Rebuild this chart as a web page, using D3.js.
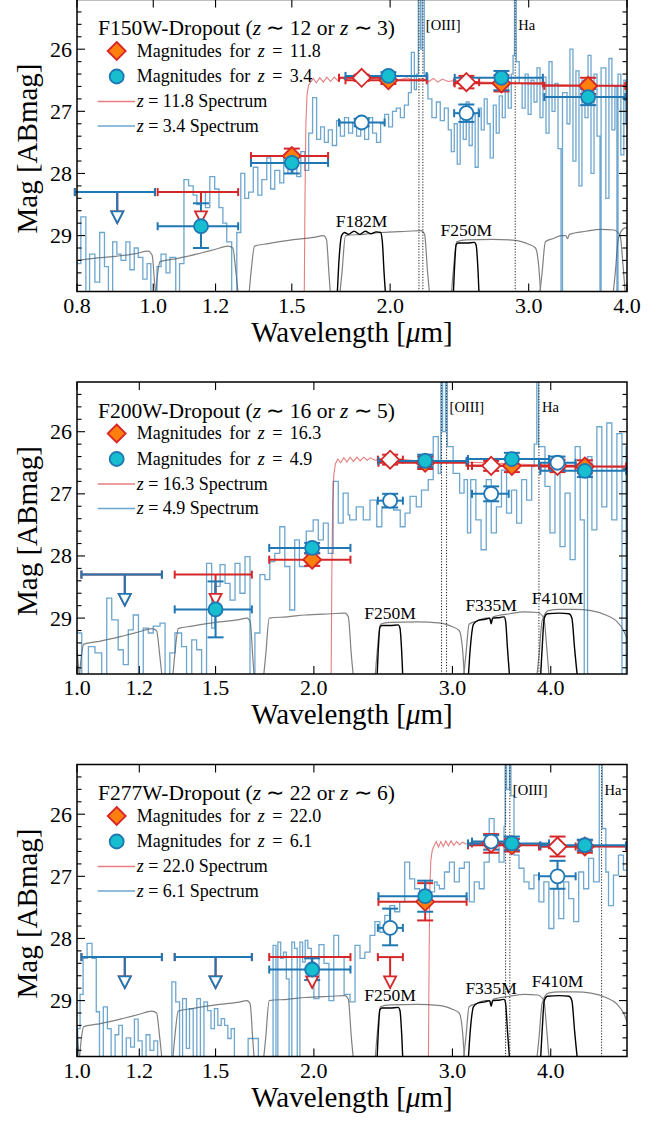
<!DOCTYPE html>
<html>
<head>
<meta charset="utf-8">
<script src="https://cdn.jsdelivr.net/npm/d3@7"></script>
<style>
  body { margin: 0; background: #fff; }
  svg text { font-family: "Liberation Serif", "Times New Roman", serif; fill: #000; }
</style>
</head>
<body>
<svg id="fig" width="668" height="1121" font-family="Liberation Serif, serif"></svg>
<script>
// ---- axes ----
var magDomain = [25.2, 29.9];
var yTicks = [26, 27, 28, 29];
var xTicks1 = [0.8, 1.0, 1.2, 1.5, 2.0, 3.0, 4.0];
var xTicks23 = [1.0, 1.2, 1.5, 2.0, 3.0, 4.0];

// filter edges [lo, hi, pivot] in micron
var bandEdges = {
  F090W: [0.795, 1.005, 0.90], F115W: [1.013, 1.282, 1.15], F150W: [1.331, 1.668, 1.50],
  F200W: [1.755, 2.226, 1.99], F277W: [2.416, 3.127, 2.77], F356W: [3.140, 3.980, 3.57],
  F444W: [3.880, 4.986, 4.42], F182M: [1.722, 1.968, 1.84], F250M: [2.412, 2.595, 2.50],
  F335M: [3.177, 3.537, 3.36], F410M: [3.865, 4.302, 4.08]
};
var mediumBands = ['F182M', 'F250M', 'F335M', 'F410M'];

// filter transmission curves, drawn in magnitude units at the bottom of each panel
var broadCurves = [
  [[0.76,29.44],[0.80,29.40],[0.85,29.36],[0.90,29.33],[0.95,29.29],[0.985,29.25],[0.997,29.32],[1.003,29.7],[1.008,30.0],[1.014,30.3]],
  [[0.998,30.3],[1.006,30.0],[1.012,29.65],[1.02,29.42],[1.06,29.38],[1.10,29.34],[1.15,29.28],[1.20,29.22],[1.245,29.17],[1.262,29.2],[1.274,29.6],[1.284,30.0],[1.296,30.3]],
  [[1.31,30.3],[1.322,30.0],[1.331,29.6],[1.345,29.17],[1.40,29.13],[1.50,29.07],[1.60,29.03],[1.645,29.0],[1.66,29.06],[1.672,29.6],[1.681,30.0],[1.695,30.3]],
  [[1.71,30.3],[1.724,30.0],[1.737,29.6],[1.755,29.0],[1.85,28.98],[1.95,28.95],[2.10,28.93],[2.19,28.92],[2.212,28.98],[2.232,29.6],[2.248,30.0],[2.27,30.3]],
  [[2.37,30.3],[2.39,30.0],[2.405,29.6],[2.43,29.1],[2.50,29.07],[2.70,29.06],[2.90,29.08],[3.00,29.14],[3.06,29.2],[3.09,29.5],[3.11,30.0],[3.13,30.3]],
  [[3.07,30.3],[3.095,30.0],[3.12,29.6],[3.15,29.1],[3.22,29.05],[3.30,29.0],[3.345,29.0],[3.36,29.05],[3.38,28.98],[3.55,28.93],[3.70,28.9],[3.85,28.91],[3.92,29.0],[3.955,29.5],[3.985,30.0],[4.02,30.3]],
  [[3.80,30.3],[3.835,30.0],[3.865,29.6],[3.90,29.05],[3.97,28.88],[4.10,28.86],[4.30,28.86],[4.50,28.88],[4.70,28.95],[4.85,29.05],[4.95,29.2],[5.05,29.5]]
];
var mediumCurves = {
  F182M: [[1.70,30.3],[1.712,30.0],[1.722,29.4],[1.735,29.0],[1.75,28.95],[1.77,28.98],[1.80,28.93],[1.83,28.98],[1.86,28.93],[1.89,28.97],[1.92,28.94],[1.945,28.95],[1.955,29.1],[1.965,29.6],[1.975,30.0],[1.99,30.3]],
  F250M: [[2.39,30.3],[2.405,30.0],[2.415,29.5],[2.426,29.15],[2.44,29.12],[2.50,29.12],[2.56,29.11],[2.573,29.16],[2.585,29.5],[2.596,30.0],[2.61,30.3]],
  F335M: [[3.12,30.3],[3.14,30.0],[3.16,29.5],[3.19,29.1],[3.23,29.04],[3.30,29.02],[3.345,29.0],[3.36,29.09],[3.375,29.0],[3.45,28.99],[3.49,28.98],[3.505,29.05],[3.525,29.5],[3.55,30.0],[3.58,30.3]],
  F410M: [[3.86,30.3],[3.88,30.0],[3.90,29.5],[3.925,29.0],[3.96,28.93],[4.10,28.92],[4.22,28.93],[4.255,29.0],[4.29,29.5],[4.33,30.0],[4.37,30.3]]
};

// ---- panel 1: F150W dropout ----
var p1Title = ['F150W-Dropout (', 'z', ' \u223C 12 or ', 'z', ' \u223C 3)'];
var p1Redshifts = ['11.8', '3.4'];
var p1Medium = ['F182M', 'F250M'];
var p1BandLabels = [['F182M', 1.84, 28.86], ['F250M', 2.50, 29.01]];
var p1EmLines = [['[OIII]', [2.176, 2.201]], ['Ha', [2.884]]];
var p1RedDet = [['F150W',27.72,0.12,0.11],['F182M',26.46,0.05,0.05],['F200W',26.50,0.06,0.06],['F250M',26.53,0.10,0.10],['F277W',26.55,0.13,0.13],['F356W',26.59,0.13,0.13]];
var p1RedLim = [['F090W',28.3],['F115W',28.3]];
var p1BlueDet = [['F115W',28.85,0.37,0.35],['F150W',27.83,0.10,0.17],['F182M',27.18,0.06,0.06],['F200W',26.43,0.06,0.06],['F250M',27.03,0.14,0.14],['F277W',26.46,0.11,0.20],['F356W',26.77,0.13,0.13]];
var p1BlueLim = [['F090W',28.3]];
var p1RedSpec = [[0.78,30.6],[1.552,30.6],[1.556,29.8],[1.559,28.4],[1.563,27.2],[1.568,26.75],[1.575,26.58],[1.585,26.53],[1.597,26.47],[1.612,26.54],[1.628,26.46],[1.645,26.53],[1.662,26.45],[1.68,26.52],[1.698,26.45],[1.717,26.51],[1.737,26.46],[1.758,26.5],[1.78,26.46],[1.81,26.5],[1.84,26.47],[1.88,26.49],[1.92,26.46],[1.96,26.49],[2.0,26.47],[2.05,26.5],[2.1,26.46],[2.15,26.5],[2.2,26.47],[2.24,26.52],[2.27,26.47],[2.3,26.53],[2.33,26.48],[2.37,26.52],[2.42,26.5],[2.5,26.52],[2.6,26.53],[2.8,26.54],[3.0,26.56],[3.2,26.57],[3.5,26.58],[3.8,26.59],[4.1,26.6]];
var p1BlueSpec = [[0.780,29.4],[0.800,29.45],[0.809,28.70],[0.821,30.2],[0.830,29.30],[0.843,29.75],[0.855,28.95],[0.867,29.50],[0.877,30.2],[0.888,29.10],[0.899,29.30],[0.910,29.40],[0.923,29.10],[0.934,29.55],[0.946,29.20],[0.957,29.35],[0.970,29.70],[0.982,29.45],[0.993,30.2],[1.011,29.50],[1.023,29.30],[1.038,29.60],[1.050,29.35],[1.068,30.2],[1.080,29.45],[1.094,28.10],[1.109,28.20],[1.124,28.35],[1.136,28.50],[1.150,28.30],[1.165,28.55],[1.180,28.05],[1.197,28.25],[1.212,28.55],[1.226,28.80],[1.240,29.10],[1.258,30.2],[1.277,28.95],[1.292,28.00],[1.307,28.40],[1.322,28.30],[1.340,27.90],[1.358,28.35],[1.374,28.10],[1.394,27.75],[1.410,28.25],[1.427,27.95],[1.448,28.15],[1.465,27.70],[1.483,28.00],[1.505,27.85],[1.522,28.05],[1.540,27.65],[1.558,27.95],[1.576,27.35],[1.594,26.78],[1.613,27.45],[1.632,27.25],[1.650,27.50],[1.669,27.30],[1.689,27.55],[1.710,27.15],[1.729,27.40],[1.750,27.10],[1.771,27.35],[1.792,27.20],[1.813,27.40],[1.835,27.25],[1.856,27.45],[1.878,27.10],[1.900,27.35],[1.922,27.50],[1.945,27.20],[1.968,27.05],[1.991,27.25],[2.014,27.00],[2.037,26.95],[2.061,27.10],[2.085,26.90],[2.110,26.70],[2.128,26.05],[2.147,26.65],[2.160,26.40],[2.172,24.0],[2.185,26.0],[2.196,24.0],[2.210,26.4],[2.234,26.80],[2.260,27.10],[2.290,26.85],[2.316,27.15],[2.344,26.95],[2.371,27.30],[2.392,27.65],[2.413,27.20],[2.434,27.85],[2.455,27.10],[2.477,27.45],[2.499,26.85],[2.520,27.55],[2.543,27.05],[2.565,27.90],[2.588,26.95],[2.611,27.30],[2.634,26.80],[2.657,27.20],[2.680,27.75],[2.705,26.90],[2.728,27.35],[2.752,26.75],[2.777,27.10],[2.801,26.60],[2.826,26.95],[2.851,26.40],[2.866,26.10],[2.878,24.0],[2.893,26.2],[2.918,26.55],[2.943,26.95],[2.969,26.40],[2.995,27.05],[3.021,26.50],[3.047,26.85],[3.074,26.30],[3.101,27.10],[3.128,26.45],[3.156,27.35],[3.184,26.20],[3.212,27.00],[3.240,26.55],[3.269,27.60],[3.298,30.2],[3.312,26.70],[3.356,27.20],[3.385,26.0],[3.415,27.80],[3.445,26.35],[3.476,28.20],[3.506,26.50],[3.537,27.10],[3.569,26.10],[3.600,28.00],[3.632,26.40],[3.664,27.40],[3.696,30.2],[3.708,26.30],[3.760,28.40],[3.794,26.15],[3.827,27.30],[3.861,26.60],[3.884,30.2],[3.896,26.40],[3.929,27.70],[3.963,26.50],[3.986,27.20],[4.02,26.8]];

// ---- panel 2: F200W dropout ----
var p2Title = ['F200W-Dropout (', 'z', ' \u223C 16 or ', 'z', ' \u223C 5)'];
var p2Redshifts = ['16.3', '4.9'];
var p23Medium = ['F250M', 'F335M', 'F410M'];
var p23BandLabels = [['F250M', 2.50, 29.01], ['F335M', 3.36, 28.89], ['F410M', 4.08, 28.78]];
var p2EmLines = [['[OIII]', [2.906, 2.949]], ['Ha', [3.864]]];
var p2RedDet = [['F200W',28.06,0.10,0.10],['F250M',26.45,0.08,0.08],['F277W',26.50,0.10,0.10],['F335M',26.55,0.08,0.08],['F356W',26.55,0.10,0.10],['F410M',26.55,0.10,0.10],['F444W',26.56,0.10,0.10]];
var p2RedLim = [['F115W',28.3],['F150W',28.3]];
var p2BlueDet = [['F150W',28.86,0.45,0.45],['F200W',27.87,0.08,0.08],['F250M',27.11,0.11,0.11],['F277W',26.47,0.10,0.10],['F335M',27.00,0.12,0.12],['F356W',26.44,0.10,0.10],['F410M',26.50,0.10,0.10],['F444W',26.63,0.10,0.10]];
var p2BlueLim = [['F115W',28.3]];
var p2RedSpec = [[0.98,30.6],[2.100,30.6],[2.104,29.8],[2.108,28.3],[2.113,27.2],[2.12,26.7],[2.13,26.52],[2.145,26.44],[2.163,26.5],[2.183,26.42],[2.203,26.49],[2.224,26.41],[2.246,26.48],[2.268,26.41],[2.29,26.47],[2.313,26.41],[2.337,26.46],[2.36,26.42],[2.39,26.46],[2.43,26.44],[2.5,26.46],[2.6,26.45],[2.7,26.47],[2.8,26.46],[2.9,26.48],[3.0,26.47],[3.1,26.49],[3.3,26.5],[3.6,26.52],[4.0,26.54],[4.5,26.56],[5.1,26.58]];
var p2BlueSpec = [[1.000,29.24],[1.014,30.2],[1.034,29.46],[1.054,29.56],[1.075,30.2],[1.091,28.68],[1.107,29.03],[1.128,29.51],[1.145,29.75],[1.162,29.19],[1.179,28.95],[1.197,30.2],[1.214,29.16],[1.232,29.24],[1.250,29.13],[1.275,29.08],[1.294,30.2],[1.312,29.56],[1.332,29.24],[1.358,29.46],[1.378,30.2],[1.399,29.35],[1.419,29.51],[1.440,30.2],[1.461,28.12],[1.483,29.16],[1.497,28.49],[1.520,28.14],[1.542,28.44],[1.565,28.71],[1.588,28.12],[1.611,28.60],[1.635,28.01],[1.659,30.2],[1.683,29.24],[1.708,28.30],[1.733,28.38],[1.758,28.09],[1.784,27.96],[1.810,27.53],[1.837,28.17],[1.864,28.87],[1.891,27.74],[1.917,28.17],[1.956,27.60],[1.996,27.42],[2.026,27.74],[2.056,27.47],[2.086,27.96],[2.116,26.80],[2.148,27.47],[2.179,26.99],[2.211,27.34],[2.221,27.42],[2.264,27.21],[2.311,27.42],[2.357,27.10],[2.404,27.53],[2.440,27.21],[2.476,27.04],[2.525,27.26],[2.575,27.53],[2.612,27.31],[2.650,27.04],[2.699,27.21],[2.740,26.94],[2.795,26.77],[2.836,26.08],[2.878,26.67],[2.900,24.0],[2.915,26.0],[2.940,24.0],[2.955,26.24],[2.977,26.24],[3.006,26.67],[3.064,26.99],[3.104,26.77],[3.135,27.63],[3.165,26.77],[3.213,27.42],[3.262,27.90],[3.312,26.77],[3.361,27.63],[3.412,27.21],[3.463,26.62],[3.515,27.31],[3.566,26.94],[3.620,27.47],[3.673,26.77],[3.727,27.10],[3.783,26.56],[3.811,26.20],[3.840,24.0],[3.860,26.24],[3.933,26.88],[3.991,27.63],[4.050,26.67],[4.110,27.85],[4.171,26.99],[4.233,28.06],[4.296,26.24],[4.360,27.42],[4.412,30.2],[4.455,26.40],[4.512,27.58],[4.578,25.92],[4.645,27.21],[4.713,25.86],[4.783,27.42],[4.854,26.03],[4.927,30.2],[4.986,26.24],[5.05,26.5]];

// ---- panel 3: F277W dropout ----
var p3Title = ['F277W-Dropout (', 'z', ' \u223C 22 or ', 'z', ' \u223C 6)'];
var p3Redshifts = ['22.0', '6.1'];
var p3EmLines = [['[OIII]', [3.505, 3.549]], ['Ha', [4.642]]];
var p3RedDet = [['F277W',27.41,0.30,0.30],['F335M',26.47,0.15,0.15],['F356W',26.50,0.10,0.10],['F410M',26.52,0.16,0.16],['F444W',26.52,0.10,0.10]];
var p3RedLim = [['F115W',28.3],['F150W',28.3],['F200W',28.3],['F250M',28.3]];
var p3BlueDet = [['F200W',28.50,0.18,0.17],['F250M',27.83,0.31,0.28],['F277W',27.32,0.25,0.25],['F335M',26.44,0.10,0.13],['F356W',26.47,0.11,0.11],['F410M',27.00,0.25,0.20],['F444W',26.50,0.09,0.09]];
var p3BlueLim = [['F115W',28.3],['F150W',28.3]];
var p3RedSpec = [[0.98,30.6],[2.792,30.6],[2.797,29.8],[2.802,28.3],[2.808,27.2],[2.816,26.75],[2.828,26.58],[2.845,26.5],[2.862,26.44],[2.88,26.53],[2.9,26.44],[2.92,26.52],[2.942,26.43],[2.965,26.51],[2.988,26.43],[3.012,26.5],[3.037,26.44],[3.063,26.49],[3.09,26.45],[3.12,26.48],[3.16,26.46],[3.22,26.48],[3.3,26.47],[3.45,26.49],[3.7,26.5],[4.0,26.51],[4.4,26.52],[5.1,26.53]];
var p3BlueSpec = [[1.000,30.2],[1.002,29.45],[1.009,28.9],[1.018,28.32],[1.030,28.08],[1.045,28.32],[1.058,29.18],[1.068,30.2],[1.080,29.1],[1.093,29.45],[1.105,30.2],[1.118,29.55],[1.130,29.4],[1.142,30.2],[1.155,29.6],[1.170,29.75],[1.183,29.3],[1.196,29.65],[1.210,30.2],[1.224,29.55],[1.238,29.8],[1.252,29.65],[1.266,30.2],[1.320,28.7],[1.335,29.02],[1.350,30.2],[1.362,28.97],[1.377,29.77],[1.390,29.13],[1.405,30.2],[1.420,28.97],[1.435,30.2],[1.450,29.02],[1.465,29.16],[1.480,29.45],[1.495,29.13],[1.510,29.4],[1.525,29.29],[1.540,29.4],[1.555,29.61],[1.570,29.45],[1.585,30.2],[1.650,29.61],[1.700,30.2],[1.775,28.11],[1.790,30.2],[1.800,28.06],[1.815,28.32],[1.830,28.22],[1.845,28.65],[1.860,30.2],[1.875,28.06],[1.890,28.16],[1.905,30.2],[1.920,28.06],[1.935,28.38],[1.950,28.03],[1.965,28.16],[1.985,28.38],[2.000,28.97],[2.030,28.1],[2.060,28.4],[2.090,29.0],[2.120,27.95],[2.150,28.3],[2.185,28.9],[2.223,29.02],[2.256,28.11],[2.289,28.32],[2.322,28.22],[2.357,27.95],[2.391,27.73],[2.426,27.90],[2.461,27.63],[2.498,27.47],[2.534,27.57],[2.571,27.41],[2.609,26.77],[2.647,27.04],[2.686,27.20],[2.725,27.41],[2.765,27.36],[2.806,27.25],[2.847,27.09],[2.868,27.14],[2.888,27.20],[2.931,26.93],[2.974,26.77],[3.017,27.09],[3.061,26.87],[3.106,26.77],[3.152,27.41],[3.198,27.09],[3.245,27.20],[3.292,26.77],[3.341,26.07],[3.389,26.45],[3.439,26.77],[3.489,26.2],[3.500,23.5],[3.515,25.6],[3.545,23.5],[3.560,25.7],[3.592,26.66],[3.645,26.87],[3.699,27.09],[3.753,27.20],[3.808,26.98],[3.864,27.41],[3.920,27.09],[3.978,27.84],[4.036,27.20],[4.095,27.68],[4.155,27.09],[4.216,27.36],[4.278,27.73],[4.341,26.93],[4.404,27.20],[4.469,26.71],[4.534,27.09],[4.610,23.5],[4.650,26.23],[4.700,26.93],[4.737,27.47],[4.806,26.98],[4.877,26.66],[4.948,26.90],[5.05,26.7]];

var panels = [
  {range: [0.8, 4.0], ticks: xTicks1, title: p1Title, z: p1Redshifts, medium: p1Medium, bandLabels: p1BandLabels, emLines: p1EmLines,
   redDet: p1RedDet, redLim: p1RedLim, blueDet: p1BlueDet, blueLim: p1BlueLim, redSpec: p1RedSpec, blueSpec: p1BlueSpec},
  {range: [1.0, 5.0], ticks: xTicks23, title: p2Title, z: p2Redshifts, medium: p23Medium, bandLabels: p23BandLabels, emLines: p2EmLines,
   redDet: p2RedDet, redLim: p2RedLim, blueDet: p2BlueDet, blueLim: p2BlueLim, redSpec: p2RedSpec, blueSpec: p2BlueSpec},
  {range: [1.0, 5.0], ticks: xTicks23, title: p3Title, z: p3Redshifts, medium: p23Medium, bandLabels: p23BandLabels, emLines: p3EmLines,
   redDet: p3RedDet, redLim: p3RedLim, blueDet: p3BlueDet, blueLim: p3BlueLim, redSpec: p3RedSpec, blueSpec: p3BlueSpec}
];

// ---- layout / style ----
var left = 77, right = 627, panelH = 292;
var tops = [-0.5, 382, 764.5];
var RED = '#d62728', BLUE = '#1f77b4', ORANGE = '#ff7f0e', CYAN = '#17becf';
var diamond = 'M0,-9L9,0L0,9L-9,0Z';
var circle = 'M7,0A7,7 0 1,1 -7,0A7,7 0 1,1 7,0Z';
var triDown = 'M-6,-5.5L6,-5.5L0,6Z';
var limDrop = 0.4;

var svg = d3.select('#fig');

function seg(g, x1, y1, x2, y2, color, w) {
  g.append('line').attr('x1', x1).attr('y1', y1).attr('x2', x2).attr('y2', y2)
    .attr('stroke', color).attr('stroke-width', w || 2);
}

function drawBars(g, x, y, det, lim, color) {
  det.forEach(function(d) {
    var b = bandEdges[d[0]], cy = y(d[1]), cx = x(b[2]);
    var x0 = x(b[0]), x1 = x(b[1]);
    seg(g, x0, cy, x1, cy, color);
    seg(g, x0, cy - 4, x0, cy + 4, color);
    seg(g, x1, cy - 4, x1, cy + 4, color);
    var yt = y(d[1] - d[2]), yb = y(d[1] + d[3]);
    seg(g, cx, yt, cx, yb, color);
    seg(g, cx - 8, yt, cx + 8, yt, color);
    seg(g, cx - 8, yb, cx + 8, yb, color);
  });
  lim.forEach(function(d) {
    var b = bandEdges[d[0]], cy = y(d[1]), cx = x(b[2]);
    var x0 = x(b[0]), x1 = x(b[1]);
    seg(g, x0, cy, x1, cy, color);
    seg(g, x0, cy - 4, x0, cy + 4, color);
    seg(g, x1, cy - 4, x1, cy + 4, color);
    seg(g, cx, cy, cx, y(d[1] + limDrop) - 5, color);
  });
}

function drawMarks(g, x, y, det, lim, edge, fill, shape) {
  det.forEach(function(d) {
    var b = bandEdges[d[0]];
    var open = mediumBands.indexOf(d[0]) >= 0;
    g.append('path').attr('d', shape)
      .attr('transform', 'translate(' + x(b[2]) + ',' + y(d[1]) + ')')
      .attr('fill', open ? '#fff' : fill).attr('stroke', edge).attr('stroke-width', 1.8);
  });
  lim.forEach(function(d) {
    var b = bandEdges[d[0]];
    g.append('path').attr('d', triDown)
      .attr('transform', 'translate(' + x(b[2]) + ',' + y(d[1] + limDrop) + ')')
      .attr('fill', '#fff').attr('stroke', edge).attr('stroke-width', 1.8);
  });
}

panels.forEach(function(p, i) {
  var top = tops[i], bottom = top + panelH;
  var x = d3.scaleLog().domain(p.range).range([left, right]);
  var y = d3.scaleLinear().domain(magDomain).range([top, bottom]);

  svg.append('clipPath').attr('id', 'clip' + i).append('rect')
    .attr('x', left).attr('y', top).attr('width', right - left).attr('height', panelH);
  var plot = svg.append('g').attr('clip-path', 'url(#clip' + i + ')');

  var smooth = d3.line().x(function(d) { return x(d[0]); }).y(function(d) { return y(d[1]); }).curve(d3.curveMonotoneX);
  var step = d3.line().x(function(d) { return x(d[0]); }).y(function(d) { return y(d[1]); }).curve(d3.curveStepAfter);
  var straight = d3.line().x(function(d) { return x(d[0]); }).y(function(d) { return y(d[1]); });

  // filter curves
  broadCurves.forEach(function(c) {
    plot.append('path').attr('d', smooth(c)).attr('fill', 'none').attr('stroke', '#808080').attr('stroke-width', 1.2);
  });
  p.medium.forEach(function(name) {
    plot.append('path').attr('d', smooth(mediumCurves[name])).attr('fill', 'none').attr('stroke', '#000').attr('stroke-width', 1.4);
  });

  // spectra
  plot.append('path').attr('d', step(p.blueSpec)).attr('fill', 'none')
    .attr('stroke', BLUE).attr('stroke-opacity', 0.65).attr('stroke-width', 1.3);
  plot.append('path').attr('d', straight(p.redSpec)).attr('fill', 'none')
    .attr('stroke', RED).attr('stroke-opacity', 0.6).attr('stroke-width', 1.1);

  // emission lines of the low-z solution
  p.emLines.forEach(function(l) {
    l[1].forEach(function(w) {
      plot.append('line').attr('x1', x(w)).attr('x2', x(w)).attr('y1', top).attr('y2', bottom)
        .attr('stroke', '#222').attr('stroke-width', 1).attr('stroke-dasharray', '1.2,1.6');
    });
    svg.append('text').attr('x', x(l[1][l[1].length - 1]) + 3).attr('y', top + 30)
      .attr('font-size', 14.5).text(l[0]);
  });

  // filter names
  p.bandLabels.forEach(function(l) {
    svg.append('text').attr('x', x(l[1])).attr('y', y(l[2])).attr('text-anchor', 'middle')
      .attr('font-size', 17.5).text(l[0]);
  });

  // photometry
  var pg = svg.append('g');
  drawBars(pg, x, y, p.redDet, p.redLim, RED);
  drawBars(pg, x, y, p.blueDet, p.blueLim, BLUE);
  drawMarks(pg, x, y, p.redDet, p.redLim, RED, ORANGE, diamond);
  drawMarks(pg, x, y, p.blueDet, p.blueLim, BLUE, CYAN, circle);

  // frame and ticks
  var ax = svg.append('g');
  ax.append('rect').attr('x', left).attr('y', top).attr('width', right - left).attr('height', panelH)
    .attr('fill', 'none').attr('stroke', '#000').attr('stroke-width', 1.5);
  d3.range(25.4, 29.85, 0.2).forEach(function(m) {
    var major = yTicks.some(function(t) { return Math.abs(t - m) < 0.01; });
    var len = major ? 8 : 4.5;
    seg(ax, left, y(m), left + len, y(m), '#000', 1.1);
    seg(ax, right, y(m), right - len, y(m), '#000', 1.1);
  });
  yTicks.forEach(function(t) {
    ax.append('text').attr('x', 72).attr('y', y(t) + 7.5).attr('text-anchor', 'end')
      .attr('font-size', 22).text(t);
  });
  p.ticks.forEach(function(t) {
    seg(ax, x(t), bottom, x(t), bottom - 8, '#000', 1.1);
    seg(ax, x(t), top, x(t), top + 8, '#000', 1.1);
    ax.append('text').attr('x', x(t)).attr('y', bottom + 21).attr('text-anchor', 'middle')
      .attr('font-size', 22).text(d3.format('.1f')(t));
  });

  // axis titles
  ax.append('text').attr('transform', 'translate(36.5,' + (top + panelH / 2 + 3) + ') rotate(-90)')
    .attr('text-anchor', 'middle').attr('font-size', 29).text('Mag [ABmag]');
  var xl = ax.append('text').attr('x', (left + right) / 2).attr('y', bottom + 50)
    .attr('text-anchor', 'middle').attr('font-size', 29);
  xl.append('tspan').text('Wavelength [');
  xl.append('tspan').attr('font-style', 'italic').text('\u03BC');
  xl.append('tspan').text('m]');

  // legend
  var lg = svg.append('g');
  var tt = lg.append('text').attr('x', 98).attr('y', top + 35.5).attr('font-size', 21.5);
  p.title.forEach(function(s, k) {
    var ts = tt.append('tspan').text(s);
    if (k % 2 === 1) ts.attr('font-style', 'italic');
  });
  function entry(cy, parts, gap) {
    var t = lg.append('text').attr('x', 136.7).attr('y', cy + 5.8).attr('font-size', 18)
      .attr('word-spacing', gap).style('white-space', 'pre');
    parts.forEach(function(s) {
      var ts = t.append('tspan').text(s);
      if (s === 'z') ts.attr('font-style', 'italic');
    });
  }
  lg.append('path').attr('d', diamond).attr('transform', 'translate(116.7,' + (top + 51.5) + ')')
    .attr('fill', ORANGE).attr('stroke', RED).attr('stroke-width', 1.8);
  entry(top + 51.5, ['Magnitudes for ', 'z', ' = ' + p.z[0]], 3);
  lg.append('path').attr('d', circle).attr('transform', 'translate(116.7,' + (top + 77) + ')')
    .attr('fill', CYAN).attr('stroke', BLUE).attr('stroke-width', 1.8);
  entry(top + 77, ['Magnitudes for ', 'z', ' = ' + p.z[1]], 3);
  lg.append('line').attr('x1', 97.7).attr('x2', 135).attr('y1', top + 102).attr('y2', top + 102)
    .attr('stroke', RED).attr('stroke-opacity', 0.6).attr('stroke-width', 1.3);
  entry(top + 102, ['z', ' = ' + p.z[0] + ' Spectrum'], 0);
  lg.append('line').attr('x1', 97.7).attr('x2', 135).attr('y1', top + 126.5).attr('y2', top + 126.5)
    .attr('stroke', BLUE).attr('stroke-opacity', 0.65).attr('stroke-width', 1.3);
  entry(top + 126.5, ['z', ' = ' + p.z[1] + ' Spectrum'], 0);
});
</script>
</body>
</html>
